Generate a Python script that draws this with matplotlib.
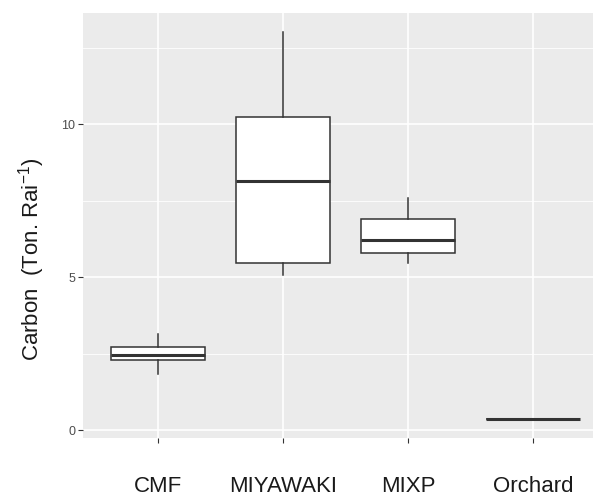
import matplotlib
matplotlib.use("Agg")
import matplotlib.pyplot as plt

plt.rcParams['font.family'] = ['Liberation Sans', 'DejaVu Sans']
plt.rcParams['mathtext.default'] = 'regular'

# categories and box statistics
groups = ["CMF", "MIYAWAKI", "MIXP", "Orchard"]
whisker_low = [1.83, 5.07, 5.45, 0.35]
q1 = [2.29, 5.45, 5.80, 0.35]
median = [2.45, 8.14, 6.21, 0.35]
q3 = [2.71, 10.23, 6.89, 0.35]
whisker_high = [3.14, 13.0, 7.58, 0.35]

stats = []
for i, g in enumerate(groups):
    stats.append(dict(label=g, whislo=whisker_low[i], q1=q1[i], med=median[i],
                      q3=q3[i], whishi=whisker_high[i], fliers=[]))

fig = plt.figure(figsize=(5.95, 4.96), dpi=100)
ax = fig.add_axes([83 / 595, 1 - 438 / 496, (593 - 83) / 595, (438 - 13) / 496])
ax.set_facecolor('#EBEBEB')
for s in ax.spines.values():
    s.set_visible(False)

ax.bxp(stats, positions=range(1, 5), widths=0.75, patch_artist=True, showcaps=False,
       boxprops=dict(facecolor='white', edgecolor='#333333', linewidth=1.1),
       whiskerprops=dict(color='#333333', linewidth=1.1),
       medianprops=dict(color='#333333', linewidth=2.2), zorder=3)

ax.set_xlim(0.4, 4.48)
ax.set_ylim(-0.26, 13.63)
ax.set_yticks([0, 5, 10])
ax.set_yticks([2.5, 7.5, 12.5], minor=True)
ax.grid(True, which='major', color='white', linewidth=1.2, zorder=0)
ax.grid(True, which='minor', axis='y', color='white', linewidth=0.6, zorder=0)
ax.set_axisbelow(True)

ax.tick_params(axis='y', which='major', labelsize=9, labelcolor='#4D4D4D',
               color='#333333', length=3.5, width=0.8, pad=2)
ax.tick_params(axis='y', which='minor', length=0)
ax.tick_params(axis='x', labelsize=16, labelcolor='#1A1A1A', color='#333333',
               length=3.5, width=0.8, pad=24)

ax.set_ylabel(r"Carbon  (Ton. Rai$^{-1}$)", fontsize=16, color='#1A1A1A')
ax.yaxis.set_label_coords(-0.07, 0.42)

plt.savefig('out.png', dpi=100)
